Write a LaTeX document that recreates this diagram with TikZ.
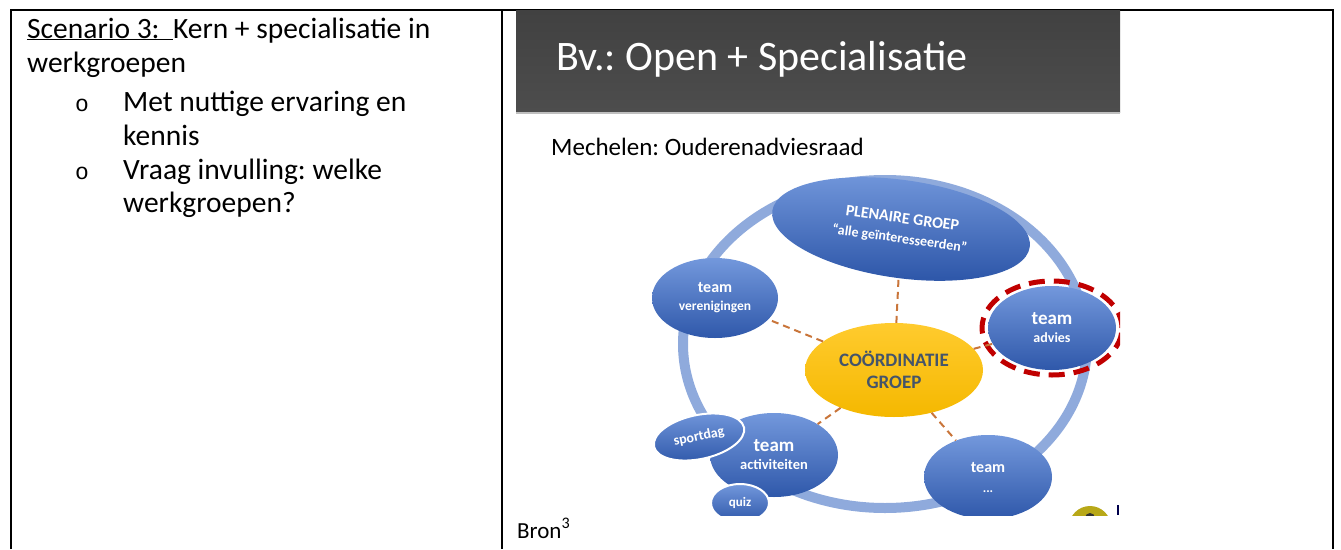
\documentclass[tikz,border=0pt]{standalone}
\usepackage{fontspec}
\setmainfont{Carlito}
\newfontfamily\bulletfont{Liberation Mono}
\frenchspacing
\usepackage{tikz}
\usetikzlibrary{positioning,shapes.geometric}
\definecolor{chalk}{HTML}{414141}
\definecolor{chalklight}{HTML}{4D4D4D}
\definecolor{ringblue}{HTML}{8FAADC}
\definecolor{teamtop}{HTML}{7398DC}
\definecolor{teambot}{HTML}{2F58AA}
\definecolor{coretop}{HTML}{FFCB2E}
\definecolor{corebot}{HTML}{F5B800}
\definecolor{coretext}{HTML}{44546A}
\definecolor{linkbrown}{HTML}{C9753A}
\definecolor{hilitered}{HTML}{C00000}
\definecolor{olive}{HTML}{B8A818}
\tikzstyle{cell} = [anchor=base west, inner sep=0pt, font=\fontsize{29.5}{34}\selectfont]
\tikzstyle{team} = [ellipse, inner sep=0pt, top color=teamtop, bottom color=teambot,
    text=white, font=\bfseries, align=center]
\tikzstyle{chip} = [team, draw=white, line width=2pt]
\tikzstyle{core} = [ellipse, inner sep=0pt, top color=coretop, bottom color=corebot,
    text=coretext, font=\bfseries\fontsize{19}{22}\selectfont, align=center]
\tikzstyle{link} = [draw=linkbrown, line width=2pt, dash pattern=on 7pt off 5pt]
\tikzstyle{orbit} = [draw=ringblue, line width=10pt]
\tikzstyle{hilite} = [ellipse, draw=hilitered, line width=5pt, dash pattern=on 16pt off 9pt]

\begin{document}
\begin{tikzpicture}[x=1pt, y=-1pt]
    \useasboundingbox (0,0) rectangle (1341,549);
    % table lines
    \draw[line width=2pt] (11,549) -- (11,10) -- (1333,10) -- (1333,549);
    \draw[line width=2pt] (502,10) -- (502,549);
    % left cell
    \node[cell] (scen) at (27,38) {\underline{Scenario 3:\ \ }Kern + specialisatie in};
    \node[cell] (werk) at (27,72) {werkgroepen};
    \node[cell, font=\fontsize{23}{26}\selectfont] (b1) at (75,111) {\bulletfont o};
    \node[cell] (item1) at (123,111) {Met nuttige ervaring en};
    \node[cell] (item1b) at (123,145) {kennis};
    \node[cell, font=\fontsize{23}{26}\selectfont] (b2) at (75,179) {\bulletfont o};
    \node[cell] (item2) at (123,179) {Vraag invulling: welke};
    \node[cell] (item2b) at (123,212) {werkgroepen?};
    % slide
    \shade[top color=chalk, bottom color=chalklight] (516,10) rectangle (1120,112);
    \draw[black!25, line width=1.5pt] (516,113) -- (1120,113);
    \node[anchor=base west, inner sep=0pt, text=white, font=\fontsize{42}{48}\selectfont]
        (head) at (556,70) {Bv.: Open + Specialisatie};
    \node[anchor=base west, inner sep=0pt, font=\fontsize{25}{29}\selectfont]
        (city) at (551,155) {Mechelen: Ouderenadviesraad};
    \begin{scope}
        \clip (516,114) rectangle (1120,515);
        \draw[orbit] (885,344) ellipse [x radius=202, y radius=164];
        \node[team, minimum width=260pt, minimum height=98pt, rotate=-8] (plen) at (901,229)
            {\fontsize{16}{18}\selectfont PLENAIRE GROEP\\[8pt]
             \fontsize{14}{16}\selectfont “alle geïnteresseerden”};
        \node[team, minimum width=126pt, minimum height=80pt] (veren) at (715,298)
            {\fontsize{16}{18}\selectfont team\\[6pt] \fontsize{13.5}{16}\selectfont verenigingen};
        \node[team, minimum width=128pt, minimum height=84pt] (advies) at (1052,328)
            {\fontsize{19}{21}\selectfont team\\[6pt] \fontsize{14}{17}\selectfont advies};
        \node[hilite, minimum width=140pt, minimum height=94pt] (focus) at (1052,328) {};
        \node[core, minimum width=178pt, minimum height=94pt] (coord) at (894,370)
            {COÖRDINATIE\\GROEP};
        \node[team, minimum width=128pt, minimum height=84pt] (activ) at (774,455)
            {\fontsize{19}{21}\selectfont team\\[6pt] \fontsize{14.5}{17}\selectfont activiteiten};
        \node[chip, minimum width=92pt, minimum height=44pt, rotate=12] (sport) at (699,437)
            {\fontsize{14}{16}\selectfont sportdag};
        \node[chip, minimum width=58pt, minimum height=38pt] (quiz) at (740,503)
            {\fontsize{13}{15}\selectfont quiz};
        \node[team, minimum width=128pt, minimum height=84pt] (more) at (988,477)
            {\fontsize{16}{18}\selectfont team\\[8pt] \fontsize{13}{16}\selectfont ...};
        % links to the core group
        \draw[link] (coord) -- (plen);
        \draw[link] (coord) -- (veren);
        \draw[link] (coord) -- (advies);
        \draw[link] (coord) -- (activ);
        \draw[link] (coord) -- (more);
        % next slide peeking in
        \fill[olive] (1090,527) circle (21);
        \fill[black!80] (1090,518) circle (5);
        \draw[blue!30!black, line width=2pt] (1118,505) -- (1118,515);
    \end{scope}
    \node[anchor=base west, inner sep=0pt, font=\fontsize{23}{26}\selectfont]
        (bron) at (517,538) {Bron\textsuperscript{3}};
\end{tikzpicture}
\end{document}
